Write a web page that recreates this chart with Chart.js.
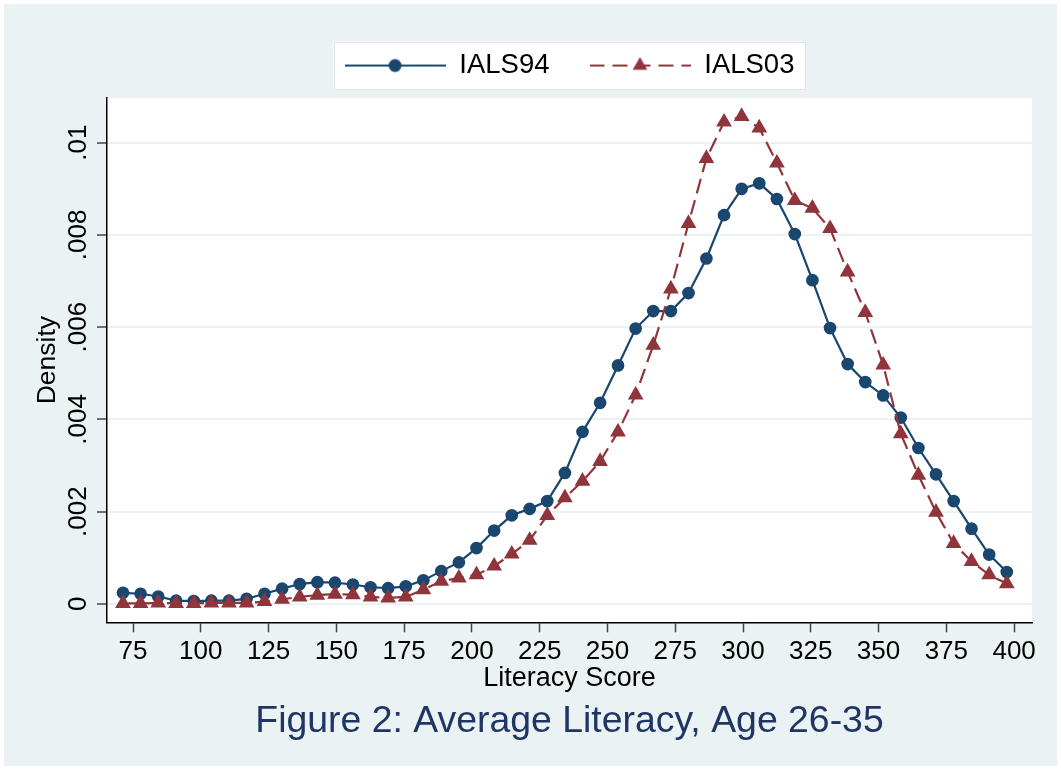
<!DOCTYPE html>
<html><head><meta charset="utf-8">
<script src="https://cdn.jsdelivr.net/npm/chart.js@4.4.0/dist/chart.umd.min.js"></script>
<style>html,body{margin:0;padding:0;background:#fff;} canvas{display:block;}</style>
</head><body>
<canvas id="c" width="1061" height="770"></canvas>
<script>
// ---- data ----
const scores = [71.3,77.8,84.3,90.9,97.4,103.9,110.4,116.9,123.5,130.0,
  136.5,143.0,149.5,156.1,162.6,169.1,175.6,182.1,188.7,195.2,
  201.7,208.2,214.7,221.3,227.8,234.3,240.8,247.3,253.9,260.4,
  266.9,273.4,279.9,286.5,293.0,299.5,306.0,312.5,319.1,325.6,
  332.1,338.6,345.1,351.7,358.2,364.7,371.2,377.7,384.3,390.8,397.3];
const ials94 = [0.00024,0.00022,0.00016,0.00007,0.00006,0.00007,0.00007,0.00011,0.00022,0.00033,
  0.00043,0.00047,0.00046,0.00042,0.00036,0.00034,0.00038,0.00051,0.00071,0.00090,
  0.00121,0.00159,0.00192,0.00206,0.00223,0.00284,0.00373,0.00436,0.00517,0.00597,
  0.00635,0.00635,0.00674,0.00749,0.00843,0.00900,0.00912,0.00878,0.00802,0.00702,
  0.00598,0.00520,0.00481,0.00452,0.00404,0.00338,0.00281,0.00223,0.00163,0.00107,0.00069];
const ials03 = [0.00001,0.00001,0.00002,0.00001,0.00001,0.00002,0.00002,0.00002,0.00005,0.00010,
  0.00015,0.00019,0.00021,0.00020,0.00015,0.00013,0.00015,0.00031,0.00049,0.00056,
  0.00063,0.00082,0.00108,0.00138,0.00192,0.00230,0.00266,0.00309,0.00373,0.00453,
  0.00561,0.00683,0.00825,0.00966,0.01045,0.01057,0.01032,0.00956,0.00875,0.00858,
  0.00814,0.00720,0.00632,0.00518,0.00369,0.00279,0.00199,0.00131,0.00092,0.00063,0.00044];
const seriesNames = ['IALS94','IALS03'];
const xTicks = [75,100,125,150,175,200,225,250,275,300,325,350,375,400];
const xTickLabels = ['75','100','125','150','175','200','225','250','275','300','325','350','375','400'];
const yTicks = [0,0.002,0.004,0.006,0.008,0.01];
const yTickLabels = ['0','.002','.004','.006','.008','.01'];
const xTitle = 'Literacy Score';
const yTitle = 'Density';
const chartTitle = 'Figure 2: Average Literacy, Age 26-35';

// ---- styles ----
const BLUE = '#1A476F', RED = '#90353B', BG = '#EAF2F3';
const FONT = "'Liberation Sans', Arial, Helvetica, sans-serif";

function legendSample(color, dash, style) {
  const c = document.createElement('canvas');
  c.width = 101; c.height = 22;
  const g = c.getContext('2d');
  g.strokeStyle = color; g.lineWidth = 2.2; g.setLineDash(dash);
  g.beginPath(); g.moveTo(0, 11); g.lineTo(101, 11); g.stroke();
  g.setLineDash([]); g.fillStyle = color;
  g.beginPath();
  if (style === 'circle') { g.arc(50.5, 11, 6.5, 0, Math.PI * 2); }
  else { const r = 8.5; g.moveTo(50.5, 11 - r); g.lineTo(50.5 + r * 0.866, 11 + r / 2); g.lineTo(50.5 - r * 0.866, 11 + r / 2); g.closePath(); }
  g.fill();
  return c;
}
const samples = {
  IALS94: legendSample(BLUE, [], 'circle'),
  IALS03: legendSample(RED, [15, 8], 'triangle')
};

const bgPlugin = {
  id: 'bgPlugin',
  beforeDraw(chart) {
    const {ctx, chartArea: a, width, height} = chart;
    ctx.save();
    ctx.fillStyle = '#fff'; ctx.fillRect(0, 0, width, height);
    ctx.fillStyle = BG; ctx.fillRect(4, 4, width - 8, height - 8);
    ctx.fillStyle = '#fff'; ctx.fillRect(a.left, a.top, a.right - a.left, a.bottom - a.top);
    const hb = chart.legend && chart.legend.legendHitBoxes;
    if (hb && hb.length) {
      const last = hb[hb.length - 1];
      const l = hb[0].left - 11, r = last.left + last.width + 11;
      const cy = hb[0].top + hb[0].height / 2;
      ctx.fillStyle = '#fff'; ctx.fillRect(l, cy - 24, r - l, 48);
      ctx.strokeStyle = '#dde6e9'; ctx.lineWidth = 1;
      ctx.strokeRect(Math.round(l) + 0.5, Math.round(cy - 24) + 0.5, Math.round(r - l) - 1, 47);
    }
    ctx.restore();
  }
};

new Chart(document.getElementById('c'), {
  type: 'line',
  data: {
    datasets: [
      { label: seriesNames[0], data: scores.map((x, i) => ({x, y: ials94[i]})),
        borderColor: BLUE, backgroundColor: BLUE, borderWidth: 2.2, tension: 0, fill: false,
        pointStyle: 'circle', pointRadius: 5.6, pointBorderWidth: 1.5,
        pointBackgroundColor: BLUE, pointBorderColor: BLUE, order: 1 },
      { label: seriesNames[1], data: scores.map((x, i) => ({x, y: ials03[i]})),
        borderColor: RED, backgroundColor: RED, borderWidth: 2.2, tension: 0, fill: false,
        borderDash: [15, 7],
        pointStyle: 'triangle', pointRadius: 7.6, pointBorderWidth: 1.5,
        pointBackgroundColor: RED, pointBorderColor: RED, order: 0 }
    ]
  },
  options: {
    responsive: false, animation: false, devicePixelRatio: 1,
    layout: { padding: { top: 11.8, right: 29, bottom: 0, left: 0 } },
    plugins: {
      legend: {
        position: 'top', fullSize: false, weight: 1000, reverse: true, onClick: null,
        labels: {
          usePointStyle: true, pointStyleWidth: 101, padding: 40, color: '#000',
          font: { family: FONT, size: 27.5 },
          generateLabels(chart) {
            const items = Chart.defaults.plugins.legend.labels.generateLabels(chart);
            items.forEach(it => { it.pointStyle = samples[it.text]; });
            return items;
          }
        }
      },
      subtitle: { display: true, position: 'top', weight: 500, fullSize: false, text: '',
        font: { size: 2 }, padding: { top: 0, bottom: 6.3 } },
      title: { display: true, position: 'bottom', fullSize: false, text: chartTitle,
        color: '#1f3563', font: { family: FONT, size: 37.4, weight: 'normal' },
        padding: { top: 0, bottom: 26 } },
      tooltip: { enabled: false }
    },
    scales: {
      x: {
        type: 'linear', min: 65.4, max: 406.6,
        afterBuildTicks(s) { s.ticks = xTicks.map(v => ({value: v})); },
        afterFit(s) { s.height = 76.8; },
        ticks: { autoSkip: false, minRotation: 0, maxRotation: 0, padding: 4.4, color: '#000',
          font: { family: FONT, size: 26 }, callback: (v, i) => xTickLabels[i] },
        grid: { display: true, drawOnChartArea: false, drawTicks: true, tickLength: 10,
          tickColor: '#444', tickWidth: 1.5 },
        border: { display: true, color: '#000', width: 1.5 },
        title: { display: true, text: xTitle, color: '#000', font: { family: FONT, size: 27 },
          padding: { top: 0, bottom: 4.5 } }
      },
      y: {
        type: 'linear', min: -0.0004, max: 0.01097,
        afterBuildTicks(s) { s.ticks = yTicks.map(v => ({value: v})); },
        afterFit(s) { s.width = 107; },
        ticks: { autoSkip: false, minRotation: 90, maxRotation: 90, crossAlign: 'center', padding: -7,
          color: '#000', font: { family: FONT, size: 26 }, callback: (v, i) => yTickLabels[i] },
        grid: { color: BG, lineWidth: 2, drawTicks: true, tickLength: 10, tickColor: '#444', tickWidth: 1.5 },
        border: { display: true, color: '#000', width: 1.5 },
        title: { display: true, text: yTitle, color: '#000', font: { family: FONT, size: 26.5 },
          padding: { top: 32, bottom: 0 } }
      }
    }
  },
  plugins: [bgPlugin]
});
</script>
</body></html>
